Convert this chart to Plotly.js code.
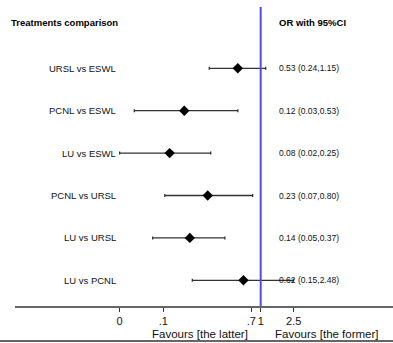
<!DOCTYPE html>
<html>
<head>
<meta charset="utf-8">
<script src="https://cdn.plot.ly/plotly-3.0.1.min.js"></script>
<style>html,body{margin:0;padding:0;background:#fff;}#chart{width:393px;height:343px;}</style>
</head>
<body>
<div id="chart"></div>
<script>
const comparisons = ["URSL vs ESWL","PCNL vs ESWL","LU vs ESWL","PCNL vs URSL","LU vs URSL","LU vs PCNL"];
const orValues = [0.53, 0.12, 0.08, 0.23, 0.14, 0.62];
const ciLower = [0.24, 0.03, 0.02, 0.07, 0.05, 0.15];
const ciUpper = [1.15, 0.53, 0.25, 0.80, 0.37, 2.48];
const tickValues = [0.02, 0.067, 0.77, 1, 2.5];
const tickLabels = ["0", ".1", ".7", "1", "2.5"];

const fmt = v => v.toFixed(2);
const orTexts = orValues.map((v,i)=> `${fmt(v)} (${fmt(ciLower[i])},${fmt(ciUpper[i])})`);

const font = "Liberation Sans, Arial, sans-serif";

const trace = {
  type: "scatter", mode: "markers",
  x: orValues, y: comparisons,
  marker: {symbol: "diamond", size: 8, color: "#000"},
  error_x: {
    type: "data", symmetric: false,
    array: orValues.map((v,i)=>ciUpper[i]-v),
    arrayminus: orValues.map((v,i)=>v-ciLower[i]),
    color: "#333", thickness: 1.3, width: 1.5
  },
  hoverinfo: "skip"
};

const annotations = [];
comparisons.forEach((c,i)=>{
  annotations.push({xref:"paper", x:0.272, yref:"y", y:c, text:c, showarrow:false, xanchor:"right",
    font:{family:font, size:9.5, color:"#111"}});
  annotations.push({xref:"paper", x:0.6944, yref:"y", y:c, text:orTexts[i], showarrow:false, xanchor:"left",
    font:{family:font, size:8.5, color:"#111"}});
});
annotations.push({xref:"paper", x:-0.016, yref:"paper", y:0.973, text:"<b>Treatments comparison</b>", showarrow:false, xanchor:"left",
  font:{family:font, size:9.5, color:"#000"}});
annotations.push({xref:"paper", x:0.6944, yref:"paper", y:0.973, text:"<b>OR with 95%CI</b>", showarrow:false, xanchor:"left",
  font:{family:font, size:9.5, color:"#000"}});
annotations.push({xref:"paper", x:0.489, yref:"paper", y:-0.0936, text:"Favours [the latter]", showarrow:false, xanchor:"center", yanchor:"middle",
  font:{family:font, size:11.5, color:"#111"}});
annotations.push({xref:"paper", x:0.825, yref:"paper", y:-0.0936, text:"Favours [the former]", showarrow:false, xanchor:"center", yanchor:"middle",
  font:{family:font, size:11.5, color:"#111"}});

const layout = {
  width: 393, height: 343,
  margin: {l: 15, r: 0, t: 7, b: 37},
  paper_bgcolor: "#fff", plot_bgcolor: "#fff",
  showlegend: false,
  xaxis: {
    type: "log", range: [-2.960, 1.594],
    tickvals: tickValues, ticktext: tickLabels, tickangle: 0,
    showgrid: false, zeroline: false,
    showline: true, linecolor: "#666", linewidth: 2,
    ticks: "outside", ticklen: 4, tickcolor: "#333", tickwidth: 1,
    tickfont: {family: font, size: 11, color: "#111"},
    fixedrange: true
  },
  yaxis: {
    type: "category", categoryorder: "array", categoryarray: comparisons,
    range: [5.606, -1.446],
    showgrid: false, zeroline: false, showline: false, showticklabels: false, ticks: "",
    fixedrange: true
  },
  shapes: [
    {type:"line", xref:"x", x0:1, x1:1, yref:"paper", y0:0, y1:1, line:{color:"#4b4bf0", width:2}},
    {type:"line", xref:"paper", x0:-0.04, x1:1, yref:"paper", y0:-0.117, y1:-0.117, line:{color:"#666", width:2}}
  ],
  annotations: annotations
};

Plotly.newPlot("chart", [trace], layout, {displayModeBar: false, staticPlot: true});
</script>
</body>
</html>
